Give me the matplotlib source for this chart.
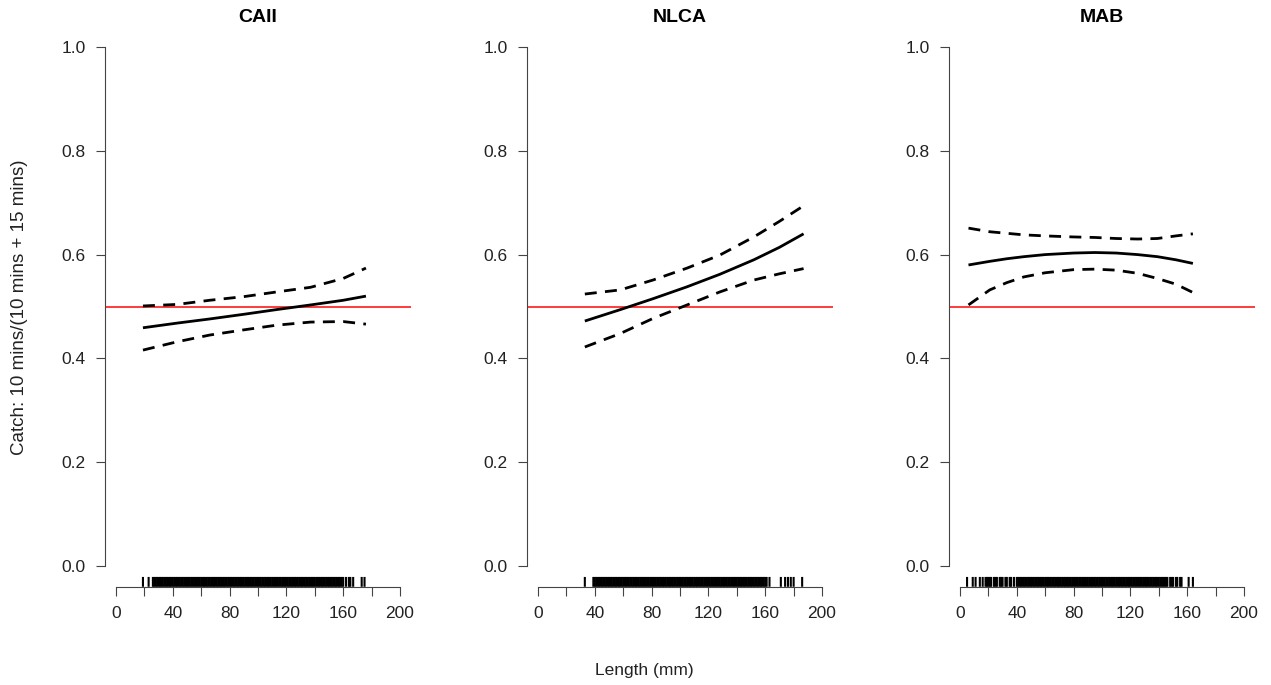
import matplotlib
matplotlib.use("Agg")
import matplotlib.pyplot as plt
import numpy as np

plt.rcParams['font.family'] = ['Liberation Sans', 'DejaVu Sans']

# ---------------- data ----------------
panel_titles = ["CAII", "NLCA", "MAB"]

# CAII
caii_x = [19, 43, 66, 90, 113, 137, 160, 176]
caii_fit = [0.459, 0.468, 0.476, 0.485, 0.494, 0.503, 0.512, 0.520]
caii_upper = [0.501, 0.504, 0.512, 0.519, 0.528, 0.537, 0.554, 0.574]
caii_lower = [0.416, 0.432, 0.445, 0.455, 0.464, 0.470, 0.471, 0.466]
caii_rug = [19, 23, 26] + list(range(27, 161)) + [162, 164, 165, 167, 173, 175]

# NLCA
nlca_x = [33, 58, 81, 105, 128, 152, 170, 187]
nlca_fit = [0.472, 0.494, 0.515, 0.538, 0.562, 0.590, 0.614, 0.640]
nlca_upper = [0.524, 0.532, 0.551, 0.574, 0.599, 0.634, 0.664, 0.694]
nlca_lower = [0.422, 0.448, 0.477, 0.503, 0.528, 0.551, 0.563, 0.573]
nlca_rug = [33, 39] + list(range(40, 162)) + [163, 171, 174, 176, 178, 180, 186]

# MAB
mab_x = [6, 21, 33, 45, 60, 80, 95, 110, 125, 139, 152, 164]
mab_fit = [0.580, 0.587, 0.592, 0.596, 0.600, 0.603, 0.604, 0.603, 0.600, 0.596, 0.590, 0.583]
mab_upper = [0.651, 0.644, 0.641, 0.638, 0.636, 0.634, 0.633, 0.631, 0.630, 0.631, 0.636, 0.640]
mab_lower = [0.503, 0.532, 0.546, 0.557, 0.565, 0.571, 0.572, 0.570, 0.564, 0.554, 0.543, 0.527]
mab_rug = ([5, 9, 11, 14, 16, 18, 19, 20, 21, 22, 24, 25, 26, 28, 29, 30, 32, 33,
            35, 36, 38, 40, 41, 42, 43] + list(range(44, 144)) +
           [144, 145, 146, 148, 149, 150, 152, 153, 155, 156, 161, 164])

panels = [
    (caii_x, caii_fit, caii_upper, caii_lower, caii_rug),
    (nlca_x, nlca_fit, nlca_upper, nlca_lower, nlca_rug),
    (mab_x, mab_fit, mab_upper, mab_lower, mab_rug),
]

ref_level = 0.5
x_ticks = [0, 40, 80, 120, 160, 200]
x_minor = [20, 60, 100, 140, 180]
y_ticks = [0.0, 0.2, 0.4, 0.6, 0.8, 1.0]
y_label = "Catch: 10 mins/(10 mins + 15 mins)"
x_label = "Length (mm)"

# ---------------- figure ----------------
W, H = 1271, 685
fig = plt.figure(figsize=(W / 100, H / 100), dpi=100)

lefts_px = [104.6, 526.6, 948.6]
width_px = 306.8
top_px, bottom_px = 26.2, 586.8

fs = 12.5
for i, (title, (xs, fit, up, lo, rug)) in enumerate(zip(panel_titles, panels)):
    ax = fig.add_axes([lefts_px[i] / W, (H - bottom_px) / H, width_px / W,
                       (bottom_px - top_px) / H])
    ax.set_xlim(-8, 208)
    ax.set_ylim(-0.04, 1.04)
    ax.axhline(ref_level, color="#ff1a1a", lw=1.2, zorder=1)
    ax.plot(xs, fit, color="black", lw=2.0, solid_capstyle="butt", zorder=3)
    ax.plot(xs, up, color="black", lw=2.0, linestyle=(0, (4.3, 3.0)),
            dash_capstyle="butt", zorder=3)
    ax.plot(xs, lo, color="black", lw=2.0, linestyle=(0, (4.3, 3.0)),
            dash_capstyle="butt", zorder=3)
    rl = ax.vlines(rug, -0.04, -0.021, color="black", lw=1.5)
    rl.set_snap(False)

    for s in ["top", "right"]:
        ax.spines[s].set_visible(False)
    ax.spines["left"].set_bounds(0, 1)
    ax.spines["bottom"].set_bounds(0, 200)
    for s in ["left", "bottom"]:
        ax.spines[s].set_linewidth(0.8)
        ax.spines[s].set_color("#444444")
    ax.set_xticks(x_ticks + x_minor)
    ax.set_xticklabels([str(t) for t in x_ticks] + [""] * len(x_minor))
    ax.set_yticks(y_ticks)
    ax.set_yticklabels([f"{t:.1f}" for t in y_ticks])
    ax.tick_params(axis="both", length=6.5, width=0.8, color="#444444",
                   labelsize=fs, labelcolor="#222222", pad=7)
    ax.patch.set_visible(False)
    fig.text((lefts_px[i] + width_px / 2) / W, (H - 17) / H, title,
             ha="center", va="center", fontsize=14, fontweight="bold")

fig.text(20 / W, (H - 307) / H, y_label, rotation=90, ha="center",
         va="center", fontsize=13.5, color="#222222")
fig.text(644 / W, (H - 671) / H, x_label, ha="center", va="center",
         fontsize=12.5, color="#222222")

fig.savefig("out.png", dpi=100)
